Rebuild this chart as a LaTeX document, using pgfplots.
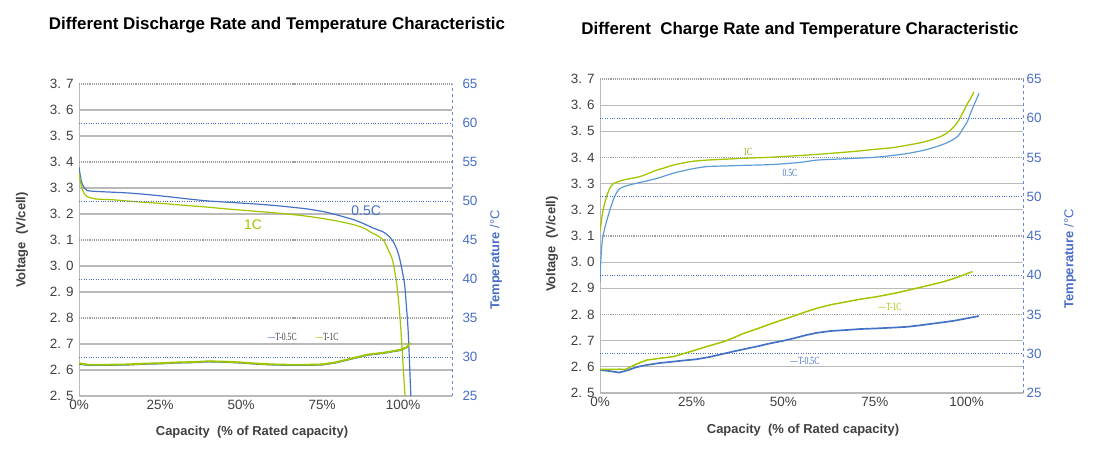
\documentclass[border=0pt]{standalone}
\usepackage{pgfplots}
\pgfplotsset{compat=1.18}
\usepackage{fontspec}
\setmainfont{Liberation Sans}
\newfontfamily\lbl[FakeStretch=0.7]{Liberation Serif}
\definecolor{vblue}{RGB}{68,114,196}
\definecolor{lblue}{RGB}{91,155,213}
\definecolor{vgreen}{RGB}{160,198,0}
\definecolor{tblue}{RGB}{72,110,200}
\definecolor{tgray}{RGB}{64,64,64}
\definecolor{gline}{RGB}{185,185,185}
\pgfplotsset{
  vaxis/.style={
    scale only axis,
    xmin=0, ymin=2.5, ymax=3.7,
    xtick={0,25,50,75,100}, xticklabels={0\%,25\%,50\%,75\%,100\%},
    ytick={2.5,2.6,2.7,2.9,3.0,3.2,3.3,3.5,3.6},
    yticklabels={2. 5,2. 6,2. 7,2. 9,3. 0,3. 2,3. 3,3. 5,3. 6},
    extra y ticks={2.8,3.1,3.4,3.7},
    extra y tick labels={2. 8,3. 1,3. 4,3. 7},
    ymajorgrids,
    major grid style={gline, line width=1.1pt},
    extra y tick style={grid=major, major grid style={gray!75, densely dotted, line width=1.3pt}},
    axis x line*=bottom, axis y line*=left,
    axis line style={gline, line width=0.9pt, -},
    major tick length=0pt,
    tick label style={font=\fontsize{13.5}{14}\selectfont, text=tgray},
    yticklabel style={xshift=-2pt},
    xticklabel style={yshift=-1pt},
  },
  taxis/.style={
    scale only axis,
    xmin=0, ymin=25, ymax=65,
    ytick={25,35,45,55,65},
    extra y ticks={30,40,50,60},
    extra y tick style={grid=major, major grid style={tblue, dotted, line width=0.9pt}},
    axis x line=none, axis y line*=right,
    y axis line style={tblue!80, dashed, line width=0.8pt, -},
    major tick length=0pt,
    /pgf/number format/assume math mode=true,
    tick label style={font=\fontsize{13.5}{14}\selectfont, text=tblue},
  },
}
\begin{document}
\begin{tikzpicture}[x=1bp,y=1bp]
\path[use as bounding box] (0,0) rectangle (1100,452);

% ---------------- LEFT CHART ----------------
\begin{axis}[vaxis, at={(79bp,56bp)}, anchor=south west, width=373bp, height=312bp, xmax=115.1]
\addplot[vblue, line width=1.2pt, smooth] coordinates {
(0,3.38) (0.5,3.34) (1,3.315) (1.8,3.298) (2.5,3.29) (5,3.287) (10,3.284) (15,3.281) (20,3.276) (25,3.27) (30,3.263) (35,3.256) (40,3.25) (45,3.246) (50,3.242) (55,3.238) (60,3.233) (65,3.227) (70,3.22) (75,3.21) (78.5,3.2) (82,3.188) (85,3.177) (88,3.162) (90,3.15) (92,3.14) (94,3.13) (96,3.11) (97,3.093) (98.2,3.06) (99.1,3.02) (100.4,2.935) (101,2.85) (101.6,2.742) (102.4,2.5)};
\addplot[vgreen, line width=1.2pt, smooth] coordinates {
(0,3.357) (0.5,3.32) (1,3.295) (1.8,3.275) (2.5,3.267) (5,3.258) (10,3.255) (15,3.25) (20,3.245) (25,3.241) (30,3.236) (35,3.231) (40,3.226) (45,3.22) (50,3.215) (55,3.21) (60,3.205) (65,3.199) (70,3.192) (75,3.183) (80,3.172) (85,3.158) (88,3.145) (90,3.13) (92,3.117) (93.9,3.1) (95.5,3.06) (96.8,3.02) (98,2.935) (98.8,2.84) (99.4,2.741) (100,2.62) (100.6,2.5)};
\node[text=vblue, font=\fontsize{14}{14}\selectfont] at (axis cs:88.6,3.213) {0.5C};
\node[text=vgreen, font=\fontsize{14}{14}\selectfont] at (axis cs:53.7,3.158) {1C};
\node[text=tgray, font=\lbl\fontsize{11}{11}\selectfont] at (axis cs:62.7,2.727) {\textcolor{vblue}{—}T-0.5C};
\node[text=tgray, font=\lbl\fontsize{11}{11}\selectfont] at (axis cs:76.5,2.727) {\textcolor{vgreen}{—}T-1C};
\end{axis}
\begin{axis}[taxis, at={(79bp,56bp)}, anchor=south west, width=373bp, height=312bp, xmax=115.1, yticklabel style={xshift=7pt}]
\addplot[vblue, line width=1.6pt] coordinates {
(0,29.1) (3,28.95) (8,28.95) (15,29.0) (20,29.1) (25,29.15) (30,29.25) (35,29.3) (40,29.4) (45,29.35) (50,29.25) (55,29.1) (60,29.0) (65,28.95) (70,28.95) (75,29.0) (79,29.25) (82,29.55) (85,29.85) (89,30.25) (94,30.5) (99,30.85) (101.5,31.3)};
\addplot[vgreen, line width=1.9pt] coordinates {
(0,29.2) (3,29.0) (8,29.0) (15,29.05) (20,29.15) (25,29.2) (30,29.3) (35,29.35) (40,29.45) (45,29.4) (50,29.3) (55,29.15) (60,29.05) (65,29.0) (70,29.0) (75,29.05) (79,29.3) (82,29.6) (85,29.9) (89,30.3) (94,30.55) (99,30.9) (101,31.2) (102.2,31.8)};
\end{axis}

% ---------------- RIGHT CHART ----------------
\begin{axis}[vaxis, at={(600bp,59bp)}, anchor=south west, width=423bp, height=314bp, xmax=115.4]
\addplot[lblue, line width=1.2pt, smooth] coordinates {
(0,2.925) (0.2,3.0) (0.6,3.08) (1.4,3.136) (2.5,3.19) (3.6,3.238) (4.5,3.265) (5.5,3.282) (8,3.295) (12,3.308) (16,3.322) (20,3.34) (24.6,3.355) (29.1,3.365) (35,3.368) (39.2,3.37) (45,3.372) (49.2,3.375) (55,3.382) (59.2,3.39) (65,3.394) (74.2,3.40) (80,3.408) (84.2,3.416) (89.3,3.431) (94.3,3.454) (97.5,3.48) (99,3.51) (100.2,3.537) (101.1,3.57) (102,3.6) (103.4,3.645)};
\addplot[vgreen, line width=1.3pt, smooth] coordinates {
(0,3.117) (0.5,3.17) (1,3.21) (2,3.26) (3,3.29) (3.6,3.30) (5.5,3.31) (7,3.316) (10.9,3.327) (13,3.338) (15.5,3.352) (18,3.362) (20,3.371) (24.6,3.384) (29.1,3.39) (35,3.394) (39.2,3.397) (45,3.4) (49.2,3.403) (55,3.408) (59.2,3.412) (65,3.418) (70,3.424) (74.2,3.43) (80,3.438) (84.2,3.448) (87,3.455) (89.3,3.463) (92,3.475) (94.3,3.49) (96.6,3.518) (98,3.545) (99.3,3.58) (100.2,3.605) (101.1,3.626) (102,3.65)};
\node[text=vgreen!85!black, font=\lbl\fontsize{11}{11}\selectfont] at (axis cs:40.3,3.421) {1C};
\node[text=vblue, font=\lbl\fontsize{11}{11}\selectfont] at (axis cs:51.8,3.341) {0.5C};
\node[text=vgreen, font=\lbl\fontsize{11}{11}\selectfont] at (axis cs:79.1,2.829) {—T-1C};
\node[text=vblue, font=\lbl\fontsize{11}{11}\selectfont] at (axis cs:55.9,2.622) {—T-0.5C};
\end{axis}
\begin{axis}[taxis, at={(600bp,59bp)}, anchor=south west, width=423bp, height=314bp, xmax=115.4, yticklabel style={xshift=0pt}]
\addplot[vblue, line width=1.7pt] coordinates {
(0,27.93) (2.5,27.8) (5.3,27.6) (7.7,27.93) (10,28.3) (12.8,28.57) (16,28.8) (20,29.0) (23,29.15) (26.4,29.3) (30,29.6) (33.7,30.0) (36.5,30.3) (39.2,30.57) (43,30.95) (46.5,31.33) (50,31.65) (52.9,31.97) (56,32.35) (59.2,32.67) (63,32.9) (67.4,33.03) (71,33.15) (75.6,33.23) (80,33.33) (83.8,33.43) (87,33.6) (90.2,33.8) (93.5,34.0) (96.6,34.2) (100,34.5) (103.4,34.8)};
\addplot[vgreen, line width=1.5pt] coordinates {
(0,28.0) (2.5,28.0) (5.5,28.03) (7,28.0) (10,28.7) (12.8,29.2) (16,29.4) (20,29.63) (24.6,30.27) (29,30.9) (33.7,31.53) (36.5,32.05) (39.2,32.6) (43,33.2) (46.5,33.8) (50,34.35) (53.7,34.93) (56.5,35.4) (59.2,35.8) (63,36.25) (67.4,36.63) (71,36.95) (75.6,37.27) (81.1,37.77) (85.5,38.25) (90.2,38.77) (93.5,39.15) (96.6,39.6) (99,40.0) (101.6,40.47)};
\end{axis}

% ---------------- TEXT ----------------
\node[font=\bfseries\fontsize{17}{17}\selectfont] at (277,427) {Different Discharge Rate and Temperature Characteristic};
\node[font=\bfseries\fontsize{17}{17}\selectfont] at (800,422) {Different\ \ Charge Rate and Temperature Characteristic};
\node[font=\bfseries\fontsize{13}{13}\selectfont, text=tgray] at (252,20) {Capacity\ \ (\% of Rated capacity)};
\node[font=\bfseries\fontsize{13}{13}\selectfont, text=tgray] at (803,22) {Capacity\ \ (\% of Rated capacity)};
\node[font=\bfseries\fontsize{13}{13}\selectfont, text=tgray, rotate=90] at (22,212) {Voltage\ \ (V/cell)};
\node[font=\bfseries\fontsize{13}{13}\selectfont, text=tgray, rotate=90] at (552,208) {Voltage\ \ (V/cell)};
\node[font=\fontsize{13}{13}\selectfont, text=tblue, rotate=90] at (496,192) {\bfseries Temperature \mdseries /°C};
\node[font=\fontsize{13}{13}\selectfont, text=tblue, rotate=90] at (1070,193) {\bfseries Temperature \mdseries /°C};
\end{tikzpicture}
\end{document}
